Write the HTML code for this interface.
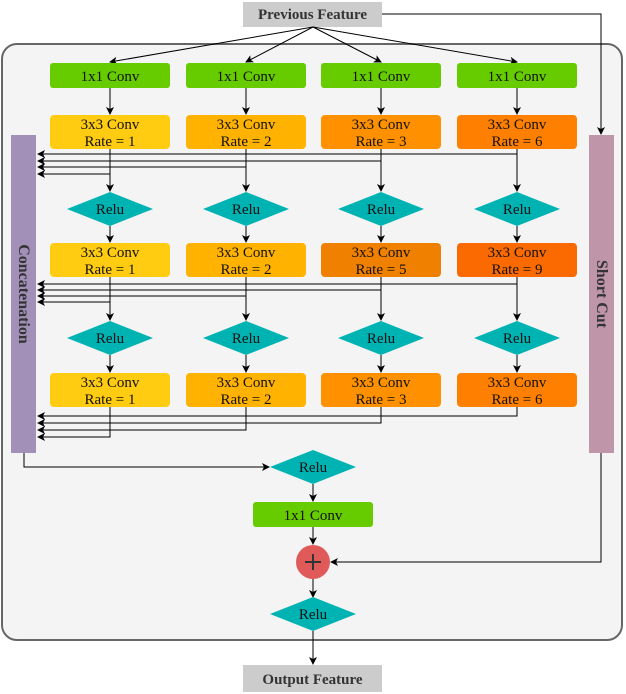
<!DOCTYPE html>
<html><head><meta charset="utf-8"><style>body{margin:0;background:#fff}svg{display:block}text{font-family:"Liberation Serif",serif;font-size:15px;fill:#111}</style></head><body>
<svg width="626" height="694" viewBox="0 0 626 694">
<defs><marker id="a" markerWidth="8" markerHeight="8" refX="7" refY="4" orient="auto" markerUnits="userSpaceOnUse"><path d="M0,0 L8,4 L0,8 L2,4 z" fill="#000"/></marker></defs>
<rect x="2" y="44" width="620" height="596" rx="15" fill="#f4f4f4" stroke="#666" stroke-width="2"/>
<rect x="243" y="2" width="139" height="25" fill="#ccc"/>
<text x="312.5" y="19" text-anchor="middle" style="font-weight:bold;font-size:15px;fill:#333">Previous Feature</text>
<rect x="243" y="665" width="139" height="27" fill="#ccc"/>
<text x="312.5" y="684" text-anchor="middle" style="font-weight:bold;font-size:15px;fill:#333">Output Feature</text>
<g stroke="#000" stroke-width="1" fill="none">
<line x1="313" y1="27" x2="110" y2="62" marker-end="url(#a)"/>
<line x1="313" y1="27" x2="246" y2="62" marker-end="url(#a)"/>
<line x1="313" y1="27" x2="381" y2="62" marker-end="url(#a)"/>
<line x1="313" y1="27" x2="517" y2="62" marker-end="url(#a)"/>
<polyline points="382,14 601,14 601,134" marker-end="url(#a)"/>
<polyline points="601,453 601,562 331,562" marker-end="url(#a)"/>
<polyline points="24,453 24,467 269,467" marker-end="url(#a)"/>
<line x1="313" y1="484" x2="313" y2="501" marker-end="url(#a)"/>
<line x1="313" y1="527" x2="313" y2="544" marker-end="url(#a)"/>
<line x1="313" y1="579" x2="313" y2="597" marker-end="url(#a)"/>
<line x1="313" y1="631" x2="313" y2="664" marker-end="url(#a)"/>
<line x1="110" y1="88" x2="110" y2="114" marker-end="url(#a)"/>
<line x1="246" y1="88" x2="246" y2="114" marker-end="url(#a)"/>
<line x1="381" y1="88" x2="381" y2="114" marker-end="url(#a)"/>
<line x1="517" y1="88" x2="517" y2="114" marker-end="url(#a)"/>
<line x1="110" y1="148" x2="110" y2="191" marker-end="url(#a)"/>
<line x1="246" y1="148" x2="246" y2="191" marker-end="url(#a)"/>
<line x1="381" y1="148" x2="381" y2="191" marker-end="url(#a)"/>
<line x1="517" y1="148" x2="517" y2="191" marker-end="url(#a)"/>
<line x1="110" y1="226" x2="110" y2="242" marker-end="url(#a)"/>
<line x1="246" y1="226" x2="246" y2="242" marker-end="url(#a)"/>
<line x1="381" y1="226" x2="381" y2="242" marker-end="url(#a)"/>
<line x1="517" y1="226" x2="517" y2="242" marker-end="url(#a)"/>
<line x1="110" y1="277" x2="110" y2="320" marker-end="url(#a)"/>
<line x1="246" y1="277" x2="246" y2="320" marker-end="url(#a)"/>
<line x1="381" y1="277" x2="381" y2="320" marker-end="url(#a)"/>
<line x1="517" y1="277" x2="517" y2="320" marker-end="url(#a)"/>
<line x1="110" y1="355" x2="110" y2="372" marker-end="url(#a)"/>
<line x1="246" y1="355" x2="246" y2="372" marker-end="url(#a)"/>
<line x1="381" y1="355" x2="381" y2="372" marker-end="url(#a)"/>
<line x1="517" y1="355" x2="517" y2="372" marker-end="url(#a)"/>
<polyline points="517,154 38,154" marker-end="url(#a)"/>
<polyline points="381,161 38,161" marker-end="url(#a)"/>
<polyline points="246,167 38,167" marker-end="url(#a)"/>
<polyline points="110,174 38,174" marker-end="url(#a)"/>
<polyline points="517,284 38,284" marker-end="url(#a)"/>
<polyline points="381,290 38,290" marker-end="url(#a)"/>
<polyline points="246,296 38,296" marker-end="url(#a)"/>
<polyline points="110,302 38,302" marker-end="url(#a)"/>
<polyline points="517,407 517,416 38,416" marker-end="url(#a)"/>
<polyline points="381,407 381,423 38,423" marker-end="url(#a)"/>
<polyline points="246,407 246,430 38,430" marker-end="url(#a)"/>
<polyline points="110,407 110,437 38,437" marker-end="url(#a)"/>
</g>
<rect x="11" y="135" width="25" height="318" fill="#a390b8"/>
<rect x="589" y="135" width="25" height="318" fill="#bf95aa"/>
<text transform="translate(19,294) rotate(90)" text-anchor="middle" style="font-weight:bold;font-size:16px;fill:#333">Concatenation</text>
<text transform="translate(597,294) rotate(90)" text-anchor="middle" style="font-weight:bold;font-size:16px;fill:#333">Short Cut</text>
<g>
<rect x="50" y="63" width="120" height="25" rx="3" fill="#66cc00"/><text x="110" y="81" text-anchor="middle">1x1 Conv</text>
<rect x="186" y="63" width="120" height="25" rx="3" fill="#66cc00"/><text x="246" y="81" text-anchor="middle">1x1 Conv</text>
<rect x="321" y="63" width="120" height="25" rx="3" fill="#66cc00"/><text x="381" y="81" text-anchor="middle">1x1 Conv</text>
<rect x="457" y="63" width="120" height="25" rx="3" fill="#66cc00"/><text x="517" y="81" text-anchor="middle">1x1 Conv</text>
<rect x="253" y="502" width="120" height="25" rx="3" fill="#66cc00"/><text x="313" y="520" text-anchor="middle">1x1 Conv</text>
</g>
<g>
<rect x="50" y="115" width="120" height="34" rx="4" fill="#ffcc11"/><text x="110" y="129" text-anchor="middle">3x3 Conv</text><text x="110" y="146" text-anchor="middle">Rate = 1</text>
<rect x="186" y="115" width="120" height="34" rx="4" fill="#ffb300"/><text x="246" y="129" text-anchor="middle">3x3 Conv</text><text x="246" y="146" text-anchor="middle">Rate = 2</text>
<rect x="321" y="115" width="120" height="34" rx="4" fill="#ff9100"/><text x="381" y="129" text-anchor="middle">3x3 Conv</text><text x="381" y="146" text-anchor="middle">Rate = 3</text>
<rect x="457" y="115" width="120" height="34" rx="4" fill="#ff8000"/><text x="517" y="129" text-anchor="middle">3x3 Conv</text><text x="517" y="146" text-anchor="middle">Rate = 6</text>
<rect x="50" y="243" width="120" height="34" rx="4" fill="#ffcc11"/><text x="110" y="257" text-anchor="middle">3x3 Conv</text><text x="110" y="274" text-anchor="middle">Rate = 1</text>
<rect x="186" y="243" width="120" height="34" rx="4" fill="#ffb300"/><text x="246" y="257" text-anchor="middle">3x3 Conv</text><text x="246" y="274" text-anchor="middle">Rate = 2</text>
<rect x="321" y="243" width="120" height="34" rx="4" fill="#f08000"/><text x="381" y="257" text-anchor="middle">3x3 Conv</text><text x="381" y="274" text-anchor="middle">Rate = 5</text>
<rect x="457" y="243" width="120" height="34" rx="4" fill="#fa6a00"/><text x="517" y="257" text-anchor="middle">3x3 Conv</text><text x="517" y="274" text-anchor="middle">Rate = 9</text>
<rect x="50" y="373" width="120" height="34" rx="4" fill="#ffcc11"/><text x="110" y="387" text-anchor="middle">3x3 Conv</text><text x="110" y="404" text-anchor="middle">Rate = 1</text>
<rect x="186" y="373" width="120" height="34" rx="4" fill="#ffb300"/><text x="246" y="387" text-anchor="middle">3x3 Conv</text><text x="246" y="404" text-anchor="middle">Rate = 2</text>
<rect x="321" y="373" width="120" height="34" rx="4" fill="#ff9100"/><text x="381" y="387" text-anchor="middle">3x3 Conv</text><text x="381" y="404" text-anchor="middle">Rate = 3</text>
<rect x="457" y="373" width="120" height="34" rx="4" fill="#ff8000"/><text x="517" y="387" text-anchor="middle">3x3 Conv</text><text x="517" y="404" text-anchor="middle">Rate = 6</text>
</g>
<g fill="#00b3b3">
<polygon points="67,209 110,192 153,209 110,226"/><polygon points="203,209 246,192 289,209 246,226"/><polygon points="338,209 381,192 424,209 381,226"/><polygon points="474,209 517,192 560,209 517,226"/>
<polygon points="67,338 110,321 153,338 110,355"/><polygon points="203,338 246,321 289,338 246,355"/><polygon points="338,338 381,321 424,338 381,355"/><polygon points="474,338 517,321 560,338 517,355"/>
<polygon points="270,467 313,450 356,467 313,484"/><polygon points="270,614 313,597 356,614 313,631"/>
</g>
<g text-anchor="middle">
<text x="110" y="214">Relu</text><text x="246" y="214">Relu</text><text x="381" y="214">Relu</text><text x="517" y="214">Relu</text>
<text x="110" y="343">Relu</text><text x="246" y="343">Relu</text><text x="381" y="343">Relu</text><text x="517" y="343">Relu</text>
<text x="313" y="472">Relu</text><text x="313" y="619">Relu</text>
</g>
<circle cx="313" cy="562" r="17" fill="#e05a5a"/>
<path d="M305,562 H321 M313,554 V570" stroke="#333" stroke-width="2"/>
</svg>
</body></html>
